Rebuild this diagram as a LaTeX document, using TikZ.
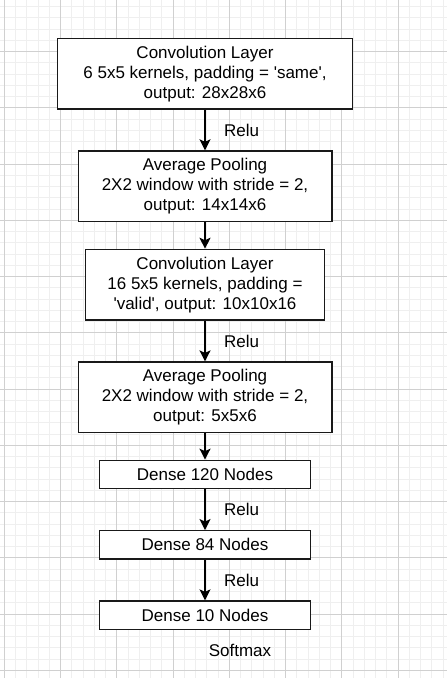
\documentclass[tikz,border=0pt]{standalone}
\usepackage{fontspec}
\setmainfont{Liberation Sans}
\usetikzlibrary{arrows.meta}

\def \gridStep {11.25}
\def \boxLine {1.3pt}

\definecolor{minorGrid}{HTML}{EFEFEF}
\definecolor{majorGrid}{HTML}{D0D0D0}

\tikzset{
    layerBox/.style={draw=black!90, line width=\boxLine, fill=white, inner sep=0pt,
        align=center, font=\fontsize{17}{20}\selectfont},
    flowArrow/.style={line width=1.5pt, -{Stealth[length=11pt, width=11pt, inset=2.5pt]}},
    actLabel/.style={font=\fontsize{17}{20}\selectfont}
}

\begin{document}
\begin{tikzpicture}[x=1pt, y=-1pt]
            \useasboundingbox (0, 0) rectangle (447, 678);
            \fill[white] (0, 0) rectangle (447, 678);
            % grid
            \foreach \k in {0, ..., 39}
                \draw[minorGrid, line width=1pt] ({4.3 + \k*\gridStep}, 0) -- ({4.3 + \k*\gridStep}, 678);
            \foreach \k in {1, ..., 60}
                \draw[minorGrid, line width=1pt] (0, {-4.55 + \k*\gridStep}) -- (447, {-4.55 + \k*\gridStep});
            \foreach \k in {0, ..., 7}
                \draw[majorGrid, line width=1pt] ({4.3 + 5*\k*\gridStep}, 0) -- ({4.3 + 5*\k*\gridStep}, 678);
            \foreach \k in {1, ..., 12}
                \draw[majorGrid, line width=1pt] (0, {-4.55 + 5*\k*\gridStep}) -- (447, {-4.55 + 5*\k*\gridStep});

            % layers
            \node[layerBox, minimum width=295pt, minimum height=70.3pt] (conv1) at (205, 73.9)
                {Convolution Layer\\6 5x5 kernels, padding = \textquotesingle same\textquotesingle,\\output: 28x28x6};
            \node[layerBox, minimum width=253.7pt, minimum height=70.7pt] (pool1) at (205, 186.3)
                {Average Pooling\\2X2 window with stride = 2,\\output: 14x14x6};
            \node[layerBox, minimum width=239pt, minimum height=70.7pt] (conv2) at (205, 284.7)
                {Convolution Layer\\16 5x5 kernels, padding =\\\textquotesingle valid\textquotesingle, output: 10x10x16};
            \node[layerBox, minimum width=253.7pt, minimum height=70.3pt] (pool2) at (205, 397.2)
                {Average Pooling\\2X2 window with stride = 2,\\output: 5x5x6};
            \node[layerBox, minimum width=211.4pt, minimum height=28.4pt] (dense1) at (205, 474.5) {Dense 120 Nodes};
            \node[layerBox, minimum width=211.4pt, minimum height=28.4pt] (dense2) at (205, 544.9) {Dense 84 Nodes};
            \node[layerBox, minimum width=211.4pt, minimum height=28.4pt] (dense3) at (205, 615.2) {Dense 10 Nodes};
            \node[actLabel] (softmax) at (240, 650) {Softmax};

            % connectors
            \draw[flowArrow] (conv1) -- node[actLabel, midway, anchor=west, xshift=15pt] (relu1) {Relu} (pool1);
            \draw[flowArrow] (pool1) -- (conv2);
            \draw[flowArrow] (conv2) -- node[actLabel, midway, anchor=west, xshift=15pt] (relu2) {Relu} (pool2);
            \draw[flowArrow] (pool2) -- (dense1);
            \draw[flowArrow] (dense1) -- node[actLabel, midway, anchor=west, xshift=15pt] (relu3) {Relu} (dense2);
            \draw[flowArrow] (dense2) -- node[actLabel, midway, anchor=west, xshift=15pt] (relu4) {Relu} (dense3);
         \end{tikzpicture}
\end{document}
